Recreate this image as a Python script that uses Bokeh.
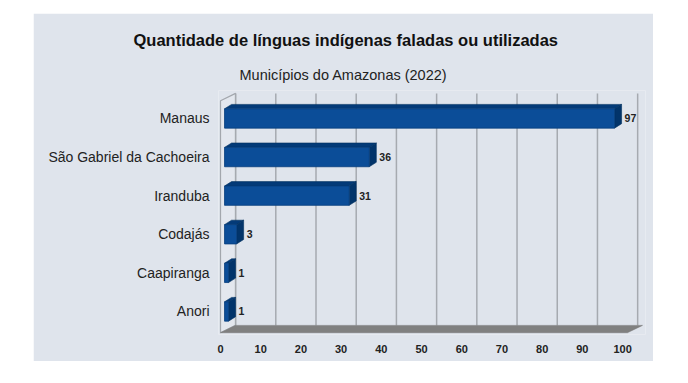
from bokeh.plotting import figure
from bokeh.models import Range1d, FixedTicker, Title, ColumnDataSource, Spacer
from bokeh.layouts import column, row
from bokeh.core.properties import value
from bokeh.embed import file_html
from bokeh.resources import INLINE

# ---- data ----
municipios = ["Manaus", "São Gabriel da Cachoeira", "Iranduba", "Codajás", "Caapiranga", "Anori"]
linguas = [97, 36, 31, 3, 1, 1]
x_ticks = [0, 10, 20, 30, 40, 50, 60, 70, 80, 90, 100]

# ---- style constants (3D look) ----
PANEL = "#dfe4ec"
WALL_DX, WALL_DY = 3.75, 0.19      # depth of walls/floor (data units)
BAR_SHIFT = 1.0                    # bars drawn slightly in depth
BAR_H = 0.25                       # half height of bar front face
BAR_DX, BAR_DY = 1.75, 0.115       # bar depth
FLOOR_FRONT = -0.55
X_MAX = 101.2
TOP_BACK = 5.65
TOP_FRONT = TOP_BACK - WALL_DY

n = len(municipios)
ypos = [n - 1 - i for i in range(n)]

p = figure(width=620, height=348, output_backend="svg", toolbar_location=None,
           x_range=Range1d(-0.5, 105.7), y_range=Range1d(-0.596, 5.725),
           min_border_left=185, min_border_right=8, min_border_bottom=27, min_border_top=77)
p.background_fill_color = PANEL
p.border_fill_color = PANEL
p.outline_line_color = None
p.grid.visible = False

# titles (left aligned with offsets so they are centred on the whole panel)
p.title.text = "Quantidade de línguas indígenas faladas ou utilizadas"
p.title.align = "left"
p.title.offset = -85
p.title.text_font = "Liberation Sans"
p.title.text_font_size = "16.5px"
p.title.text_font_style = "bold"
p.title.text_color = "#111111"
p.title.standoff = 17
sub = Title(text="Municípios do Amazonas (2022)", align="left", offset=21,
            text_font="Liberation Sans", text_font_size="14.5px", text_font_style="normal",
            text_color="#222222", standoff=15)
p.add_layout(sub, "above")

# left wall
p.patch([0, 0, WALL_DX, WALL_DX],
        [FLOOR_FRONT, TOP_FRONT, TOP_BACK, FLOOR_FRONT + WALL_DY],
        fill_color="#e3e7ee", line_color="#a3a7ad", line_width=1.2)

# back-wall grid lines
gx = [v + WALL_DX for v in x_ticks]
p.segment(x0=gx, y0=[FLOOR_FRONT + WALL_DY] * len(gx), x1=gx, y1=[TOP_BACK] * len(gx),
          line_color="#a6aab0", line_width=1.5)

# floor
p.patch([0, X_MAX, X_MAX + WALL_DX, WALL_DX],
        [FLOOR_FRONT, FLOOR_FRONT, FLOOR_FRONT + WALL_DY, FLOOR_FRONT + WALL_DY],
        fill_color="#808080", line_color="#777777", line_width=0.5)

# bars
left = [BAR_SHIFT] * n
right = [BAR_SHIFT + v for v in linguas]
src = ColumnDataSource(dict(
    left=left, right=right,
    bottom=[y - BAR_H for y in ypos], top=[y + BAR_H for y in ypos],
    top_xs=[[l, r, r + BAR_DX, l + BAR_DX] for l, r in zip(left, right)],
    top_ys=[[y + BAR_H, y + BAR_H, y + BAR_H + BAR_DY, y + BAR_H + BAR_DY] for y in ypos],
    side_xs=[[r, r + BAR_DX, r + BAR_DX, r] for r in right],
    side_ys=[[y - BAR_H, y - BAR_H + BAR_DY, y + BAR_H + BAR_DY, y + BAR_H] for y in ypos],
    lab_x=[r + BAR_DX for r in right], lab_y=ypos,
    lab=[str(v) for v in linguas],
))
p.patches("top_xs", "top_ys", source=src, fill_color="#033a78", line_color="#02305f", line_width=0.6)
p.patches("side_xs", "side_ys", source=src, fill_color="#02346a", line_color="#02305f", line_width=0.6)
p.quad(left="left", right="right", bottom="bottom", top="top", source=src,
       fill_color="#0b4d98", line_color="#073f7e", line_width=0.8)

p.text(x="lab_x", y="lab_y", text="lab", source=src, x_offset=3,
       text_font=value("Liberation Sans"), text_font_size="10.5px", text_font_style="bold",
       text_color="#222222", text_baseline="middle", text_align="left")

# axes
p.xaxis.ticker = FixedTicker(ticks=x_ticks)
p.xaxis.axis_line_color = None
p.xaxis.major_tick_line_color = None
p.xaxis.minor_tick_line_color = None
p.xaxis.major_label_standoff = 4
p.xaxis.major_label_text_font = "Liberation Sans"
p.xaxis.major_label_text_font_size = "11px"
p.xaxis.major_label_text_font_style = "bold"
p.xaxis.major_label_text_color = "#222222"

p.yaxis.ticker = FixedTicker(ticks=ypos)
p.yaxis.major_label_overrides = {y: m for y, m in zip(ypos, municipios)}
p.yaxis.axis_line_color = None
p.yaxis.major_tick_line_color = None
p.yaxis.minor_tick_line_color = None
p.yaxis.major_label_standoff = 3
p.yaxis.major_label_text_font = "Liberation Sans"
p.yaxis.major_label_text_font_size = "14px"
p.yaxis.major_label_text_color = "#222222"

layout = column(Spacer(height=13), row(Spacer(width=33), p))
open("out.html", "w").write(file_html(layout, INLINE))
